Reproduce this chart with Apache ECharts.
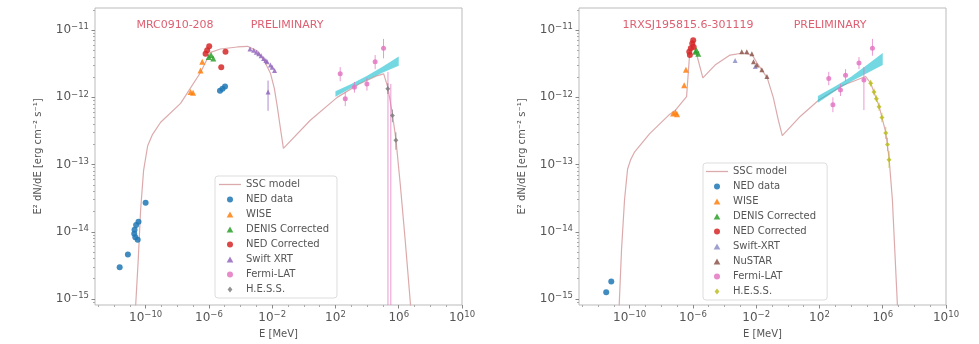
<!DOCTYPE html>
<html>
<head>
<meta charset="utf-8">
<script src="https://cdn.jsdelivr.net/npm/echarts@6/dist/echarts.min.js"></script>
<style>html,body{margin:0;padding:0;background:#fff}#c{width:979px;height:344px}</style>
</head>
<body>
<div id="c"></div>
<script>
// All values are log10 exponents: [log10(E/MeV), log10(E^2 dN/dE / erg cm^-2 s^-1)]
const xTicks = [-10, -6, -2, 2, 6, 10];
const yTicks = [-15, -14, -13, -12, -11];

// ---------- Left panel: MRC0910-208 ----------
const modelL = [[-10.75,-15.6],[-10.47,-14.43],[-10.32,-13.69],[-10.13,-13.09],[-9.87,-12.72],[-9.56,-12.55],
  [-9.05,-12.37],[-7.79,-12.09],[-6.53,-11.63],[-5.90,-11.33],[-5.27,-11.28],[-4.20,-11.25],[-3.56,-11.24],
  [-2.93,-11.31],[-2.56,-11.43],[-2.11,-11.64],[-1.86,-11.87],[-1.67,-12.15],[-1.48,-12.46],[-1.29,-12.76],
  [0.41,-12.34],[2.11,-12.0],[3.5,-11.8],[4.6,-11.68],[5.05,-11.65],[5.31,-11.85],[5.6,-12.25],[5.82,-12.62],
  [6.1,-13.3],[6.4,-14.1],[6.75,-15.1],[6.85,-15.5]];
const nedL = [[-11.64,-14.53],[-11.12,-14.34],[-10.45,-13.85],[-10.6,-13.9],[-10.7,-13.97],[-10.72,-14.03],
  [-10.65,-14.08],[-10.5,-14.12],[-10.0,-13.57],[-5.30,-11.90],[-5.14,-11.87],[-4.98,-11.84]];
const wiseL = [[-7.16,-11.92],[-7.0,-11.93],[-6.53,-11.60],[-6.42,-11.47]];
const denisL = [[-6.01,-11.40],[-5.86,-11.37],[-5.72,-11.42]];
const nedCorrL = [[-6.11,-11.30],[-5.98,-11.24],[-6.21,-11.35],[-4.95,-11.32],[-5.22,-11.55]];
const swiftL = [[-3.4,-11.28],[-3.17,-11.30],[-3.0,-11.33],[-2.85,-11.35],[-2.7,-11.38],[-2.54,-11.42],
  [-2.4,-11.45],[-2.32,-11.47],[-2.11,-11.52],[-2.0,-11.55],[-1.85,-11.6],[-2.26,-11.92]];
const swiftErrL = [[-2.26,-12.2,-11.75]];
const fermiL = [[2.30,-11.65],[2.62,-12.02],[3.2,-11.85],[3.99,-11.80],[4.51,-11.47],[5.04,-11.27]];
const fermiErrL = [[2.30,-11.76,-11.55],[2.62,-12.13,-11.92],[3.2,-11.93,-11.77],[3.99,-11.9,-11.71],
  [4.51,-11.58,-11.37],[5.04,-11.42,-11.13],[5.32,-16,-11.62],[5.5,-16,-11.8]];
const hessL = [[5.31,-11.87],[5.60,-12.27],[5.82,-12.64]];
const hessErrL = [[5.31,-11.95,-11.79],[5.60,-12.37,-12.18],[5.82,-12.78,-12.52]];
const bandLx = [2.0, 3.0, 4.0, 5.0, 6.0];
const bandLlo = [-11.99, -11.86, -11.74, -11.63, -11.53];
const bandLhi = [-11.91, -11.80, -11.68, -11.54, -11.39];

// ---------- Right panel: 1RXSJ195815.6-301119 ----------
const modelR = [[-10.75,-15.6],[-10.51,-14.26],[-10.32,-13.52],[-10.13,-13.07],[-9.94,-12.93],[-9.68,-12.81],
  [-8.73,-12.54],[-7.46,-12.25],[-7.14,-12.20],[-6.40,-11.99],[-6.19,-11.30],[-6.0,-11.15],[-5.37,-11.71],
  [-4.60,-11.52],[-3.65,-11.37],[-2.83,-11.34],[-2.25,-11.37],[-1.94,-11.49],[-1.30,-11.71],[-0.92,-12.0],
  [-0.60,-12.34],[-0.35,-12.57],[0.8,-12.28],[1.96,-12.04],[3.5,-11.82],[4.92,-11.69],[5.24,-11.79],
  [5.77,-12.13],[6.19,-12.52],[6.40,-12.9],[6.61,-13.52],[6.76,-14.26],[6.93,-15.1],[7.0,-15.5]];
const nedR = [[-11.48,-14.90],[-11.16,-14.74]];
const wiseR = [[-7.25,-12.24],[-7.1,-12.22],[-7.0,-12.25],[-6.55,-11.82],[-6.44,-11.59]];
const denisR = [[-5.77,-11.30],[-5.66,-11.35],[-5.85,-11.32]];
const nedCorrR = [[-6.19,-11.37],[-6.13,-11.27],[-6.04,-11.20],[-5.98,-11.15],[-6.23,-11.32],[-5.95,-11.25]];
const swiftR = [[-3.33,-11.45],[-2.06,-11.54]];
const nustarR = [[-2.91,-11.32],[-2.59,-11.32],[-2.27,-11.35],[-2.17,-11.47],[-1.96,-11.52],[-1.64,-11.59],[-1.32,-11.69]];
const fermiR = [[2.59,-11.72],[2.85,-12.11],[3.33,-11.89],[3.65,-11.67],[4.50,-11.49],[4.81,-11.74],[5.35,-11.27]];
const fermiErrR = [[2.59,-11.82,-11.62],[2.85,-12.22,-12.0],[3.33,-11.98,-11.8],[3.65,-11.76,-11.58],
  [4.50,-11.58,-11.40],[4.81,-12.19,-11.55],[5.35,-11.38,-11.13]];
const hessR = [[5.24,-11.79],[5.45,-11.92],[5.6,-12.02],[5.77,-12.14],[5.95,-12.3],[6.19,-12.53],[6.30,-12.7],[6.40,-12.93]];
const hessErrR = [[5.24,-11.84,-11.74],[5.45,-11.97,-11.87],[5.6,-12.07,-11.97],[5.77,-12.2,-12.08],
  [5.95,-12.37,-12.23],[6.19,-12.62,-12.44],[6.30,-12.8,-12.6],[6.40,-13.05,-12.8]];
const bandRx = [1.9, 3.0, 4.0, 5.0, 6.0];
const bandRlo = [-12.08, -11.905, -11.765, -11.64, -11.52];
const bandRhi = [-11.98, -11.835, -11.695, -11.52, -11.34];

const X_MIN = -13.2, X_MAX = 10, Y_MIN = -15.09, Y_MAX = -10.67;
const FONT = 'DejaVu Sans';
const TXT = '#555';
const C = {ned:'#1f77b4', wise:'#ff7f0e', denis:'#2ca02c', nedc:'#d62728', swift:'#9467bd',
  nustar:'#8c564b', fermi:'#e377c2', hessL:'#7f7f7f', hessR:'#bcbd22', band:'#17becf', model:'#dcaaac'};
const ICON = {
  line:'path://M0,0 L24,0 L24,1.4 L0,1.4 Z',
  tri:'path://M5,0 L10,9 L0,9 Z',
  dia:'path://M4,0 L8,5 L4,10 L0,5 Z',
  circ:'circle'
};

const xMinor = []; for (let e = -13; e <= 10; e++) if (!xTicks.includes(e)) xMinor.push(e);
const yMinor = []; for (let e = -16; e <= -11; e++) for (let k = 2; k <= 9; k++) {
  const v = e + Math.log10(k); if (v > Y_MIN && v < Y_MAX) yMinor.push(v); }

const pow10 = v => '{b|10}{s|' + (v < 0 ? '\u2212' : '') + Math.abs(v) + '}';
const rich = { b:{fontSize:12, color:TXT, fontFamily:FONT}, s:{fontSize:8.5, color:TXT, fontFamily:FONT, verticalAlign:'top', padding:[0,0,6,0]} };

function xAxisMajor(g) {
  return { type:'value', gridIndex:g, min:X_MIN, max:X_MAX, position:'bottom', splitLine:{show:false},
    axisLine:{show:false, onZero:false},
    axisTick:{show:true, length:3.5, customValues:xTicks, lineStyle:{color:'#888'}},
    axisLabel:{customValues:xTicks, formatter:pow10, rich:rich, margin:5},
    name:'E [MeV]', nameLocation:'middle', nameGap:24, nameTextStyle:{fontSize:10, color:TXT, fontFamily:FONT} };
}
function xAxisMinor(g) {
  return { type:'value', gridIndex:g, min:X_MIN, max:X_MAX, position:'bottom', splitLine:{show:false},
    axisLine:{show:false, onZero:false},
    axisTick:{show:true, length:2, customValues:xMinor, lineStyle:{color:'#aaa'}}, axisLabel:{show:false} };
}
function yAxisMajor(g) {
  return { type:'value', gridIndex:g, min:Y_MIN, max:Y_MAX, position:'left', splitLine:{show:false},
    axisLine:{show:false, onZero:false},
    axisTick:{show:true, length:3.5, customValues:yTicks, lineStyle:{color:'#888'}},
    axisLabel:{customValues:yTicks, formatter:pow10, rich:rich, margin:6},
    name:'E\u00b2 dN/dE [erg cm\u207b\u00b2 s\u207b\u00b9]', nameLocation:'middle', nameGap:52,
    nameTextStyle:{fontSize:10, color:TXT, fontFamily:FONT} };
}
function yAxisMinor(g) {
  return { type:'value', gridIndex:g, min:Y_MIN, max:Y_MAX, position:'left', splitLine:{show:false},
    axisLine:{show:false, onZero:false},
    axisTick:{show:true, length:2, customValues:yMinor, lineStyle:{color:'#aaa'}}, axisLabel:{show:false} };
}

function errSeries(data, color, axis) {
  return { type:'custom', name:'err', xAxisIndex:axis, yAxisIndex:axis, clip:true, z:3, data:data,
    renderItem:function(params, api){
      const x = api.value(0), lo = Math.max(api.value(1), Y_MIN - 0.2), hi = api.value(2);
      const p1 = api.coord([x, lo]), p2 = api.coord([x, hi]);
      return {type:'line', shape:{x1:p1[0], y1:p1[1], x2:p2[0], y2:p2[1]}, style:{stroke:color, lineWidth:1, opacity:0.75}};
    } };
}
function scat(name, data, color, symbol, size, axis) {
  return { type:'scatter', name:name, xAxisIndex:axis, yAxisIndex:axis, data:data, symbol:symbol, symbolSize:size,
    itemStyle:{color:color, opacity:0.85}, z:4 };
}
function model(name, data, axis) {
  return { type:'line', name:name, xAxisIndex:axis, yAxisIndex:axis, data:data, showSymbol:false, symbol:'none',
    lineStyle:{color:C.model, width:1.2}, itemStyle:{color:C.model}, z:2 };
}
function band(xs, lo, hi, axis) {
  // one polygon: upper edge left->right, lower edge right->left
  const data = xs.map((x, i) => [x, lo[i], hi[i]]);
  return { type:'custom', name:'band', xAxisIndex:axis, yAxisIndex:axis, clip:true, z:3, data:data,
    renderItem:function(params, api){
      if (params.dataIndex !== 0) return null;
      const pts = [];
      for (let i = 0; i < xs.length; i++) pts.push(api.coord([xs[i], hi[i]]));
      for (let i = xs.length - 1; i >= 0; i--) pts.push(api.coord([xs[i], lo[i]]));
      return {type:'polygon', shape:{points:pts}, style:{fill:C.band, opacity:0.6}};
    } };
}

const legendStyle = { orient:'vertical', itemWidth:22, itemHeight:6, itemGap:0, itemTextGap:8,
  borderColor:'#dddddd', borderWidth:1, borderRadius:3, backgroundColor:'rgba(255,255,255,0.8)', selectedMode:false,
  textStyle:{fontSize:10, lineHeight:15, color:TXT, fontFamily:FONT} };

const sp = ' '; // right-panel series names carry a trailing space to keep legends separate
const L = (name, icon) => ({name:name, icon:icon});
const option = {
  backgroundColor:'#fff',
  animation:false,
  textStyle:{fontFamily:FONT},
  grid:[
    {left:95, top:8, width:367, height:297, show:true, borderColor:'#bbb', borderWidth:1},
    {left:579, top:8, width:367, height:297, show:true, borderColor:'#bbb', borderWidth:1}
  ],
  xAxis:[xAxisMajor(0), xAxisMajor(1), xAxisMinor(0), xAxisMinor(1)],
  yAxis:[yAxisMajor(0), yAxisMajor(1), yAxisMinor(0), yAxisMinor(1)],
  legend:[
    Object.assign({left:215, top:176, padding:[1,8,1,4],
      data:[L('SSC model',ICON.line),L('NED data',ICON.circ),L('WISE',ICON.tri),L('DENIS Corrected',ICON.tri),
        L('NED Corrected',ICON.circ),L('Swift XRT',ICON.tri),L('Fermi-LAT',ICON.circ),L('H.E.S.S.',ICON.dia)]}, legendStyle),
    Object.assign({left:703, top:163, padding:[1,8,1,3],
      data:[L('SSC model'+sp,ICON.line),L('NED data'+sp,ICON.circ),L('WISE'+sp,ICON.tri),L('DENIS Corrected'+sp,ICON.tri),
        L('NED Corrected'+sp,ICON.circ),L('Swift-XRT'+sp,ICON.tri),L('NuSTAR'+sp,ICON.tri),L('Fermi-LAT'+sp,ICON.circ),L('H.E.S.S.'+sp,ICON.dia)]}, legendStyle)
  ],
  graphic:[
    {type:'text', x:175, y:25, style:{text:'MRC0910-208', fill:'#dd6072', font:'11px "DejaVu Sans"', textAlign:'center', textVerticalAlign:'middle', align:'center', verticalAlign:'middle'}},
    {type:'text', x:287, y:25, style:{text:'PRELIMINARY', fill:'#dd6072', font:'11px "DejaVu Sans"', textAlign:'center', textVerticalAlign:'middle', align:'center', verticalAlign:'middle'}},
    {type:'text', x:688, y:25, style:{text:'1RXSJ195815.6-301119', fill:'#dd6072', font:'11px "DejaVu Sans"', textAlign:'center', textVerticalAlign:'middle', align:'center', verticalAlign:'middle'}},
    {type:'text', x:830, y:25, style:{text:'PRELIMINARY', fill:'#dd6072', font:'11px "DejaVu Sans"', textAlign:'center', textVerticalAlign:'middle', align:'center', verticalAlign:'middle'}}
  ],
  series:[
    model('SSC model', modelL, 0),
    band(bandLx, bandLlo, bandLhi, 0),
    errSeries(fermiErrL, C.fermi, 0),
    errSeries(hessErrL, C.hessL, 0),
    errSeries(swiftErrL, C.swift, 0),
    scat('NED data', nedL, C.ned, 'circle', 6, 0),
    scat('WISE', wiseL, C.wise, 'triangle', 6, 0),
    scat('DENIS Corrected', denisL, C.denis, 'triangle', 6, 0),
    scat('NED Corrected', nedCorrL, C.nedc, 'circle', 6, 0),
    scat('Swift XRT', swiftL, C.swift, 'triangle', 5, 0),
    scat('Fermi-LAT', fermiL, C.fermi, 'circle', 5, 0),
    scat('H.E.S.S.', hessL, C.hessL, 'diamond', 5, 0),

    model('SSC model'+sp, modelR, 1),
    band(bandRx, bandRlo, bandRhi, 1),
    errSeries(fermiErrR, C.fermi, 1),
    errSeries(hessErrR, C.hessR, 1),
    scat('NED data'+sp, nedR, C.ned, 'circle', 6, 1),
    scat('WISE'+sp, wiseR, C.wise, 'triangle', 6, 1),
    scat('DENIS Corrected'+sp, denisR, C.denis, 'triangle', 6, 1),
    scat('NED Corrected'+sp, nedCorrR, C.nedc, 'circle', 6, 1),
    scat('Swift-XRT'+sp, swiftR, '#8f8fc8', 'triangle', 5, 1),
    scat('NuSTAR'+sp, nustarR, C.nustar, 'triangle', 5, 1),
    scat('Fermi-LAT'+sp, fermiR, C.fermi, 'circle', 5, 1),
    scat('H.E.S.S.'+sp, hessR, C.hessR, 'diamond', 5, 1)
  ]
};
const chart = echarts.init(document.getElementById('c'), null, {renderer:'canvas'});
chart.setOption(option);
</script>
</body>
</html>
